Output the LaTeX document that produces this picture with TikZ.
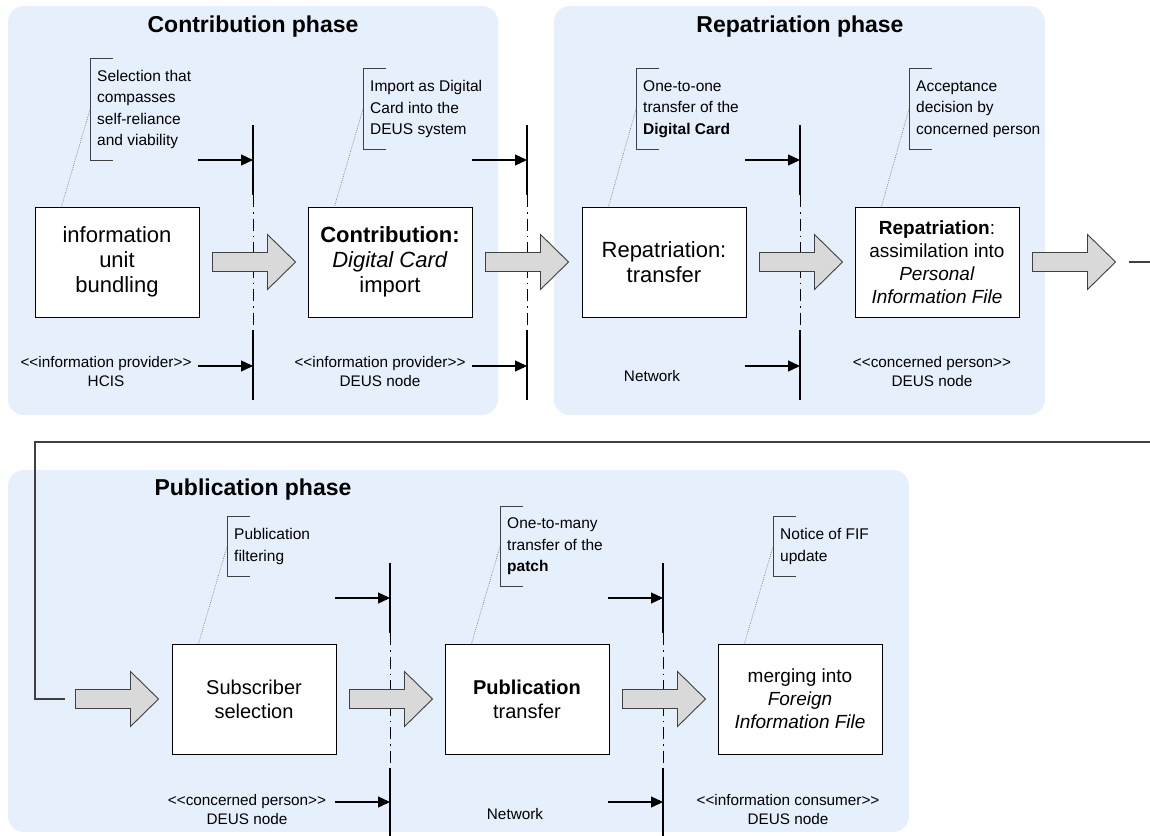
\documentclass[tikz,border=0pt]{standalone}
\usepackage{fontspec}
\setmainfont{Liberation Sans}
\usetikzlibrary{arrows.meta}
\definecolor{panelblue}{RGB}{230,240,253}
\definecolor{arrowgray}{RGB}{217,217,217}
\definecolor{edgegray}{RGB}{64,64,64}
% stereotype brackets, kept as two separate angle characters
\newcommand\stereo[1]{<\kern0pt<#1>\kern0pt>}
\tikzset{
  phase/.style={fill=panelblue, draw=none, rounded corners=16pt},
  phasetitle/.style={font=\fontsize{23}{27}\selectfont\bfseries, inner sep=0pt},
  stepbox/.style={draw=black, line width=1pt, fill=white, minimum width=164pt,
    minimum height=110pt, align=center, inner sep=0pt,
    font=\fontsize{19}{23}\selectfont},
  bigtext/.style={font=\fontsize{22}{25}\selectfont},
  midtext/.style={font=\fontsize{20}{24}\selectfont},
  note/.style={anchor=west, align=left, inner xsep=7pt, inner ysep=0pt,
    font=\fontsize{15.5}{21.5}\selectfont},
  bracket/.style={draw=edgegray, line width=1pt},
  leader/.style={draw=gray, line width=0.7pt, dash pattern=on 0.8pt off 1.2pt},
  role/.style={align=center, inner sep=0pt, font=\fontsize{15.3}{19}\selectfont},
  laneline/.style={line width=2.7pt},
  lanedash/.style={line width=0.9pt, dash pattern=on 12pt off 5pt on 1.5pt off 5pt},
  feed/.style={line width=1.3pt, -{Triangle[length=12pt,width=11pt]}},
  link/.style={draw=edgegray, line width=1.2pt},
  bigarrow/.pic={
    \draw[fill=arrowgray, draw=edgegray, line width=0.9pt, line join=miter]
      (0,-9.5) -- (55,-9.5) -- (55,-27.5) -- (83,0) -- (55,27.5)
      -- (55,9.5) -- (0,9.5) -- cycle;
  }
}
\begin{document}
\begin{tikzpicture}[x=1pt,y=-1pt]
\useasboundingbox (0,0) rectangle (1150,835);

% phase panels
\fill[phase] (8,6) rectangle (498,415);
\fill[phase] (554,6) rectangle (1045,415);
\fill[phase] (8,470) rectangle (909,832);
\node[phasetitle] (t1) at (253,27) {Contribution phase};
\node[phasetitle] (t2) at (800,27) {Repatriation phase};
\node[phasetitle] (t3) at (253,490) {Publication phase};

% swimlane separators with their incoming flows
\foreach \x in {253,527,800} {
  \draw[laneline] (\x,125) -- (\x,195);
  \draw[lanedash] (\x,195) -- (\x,330);
  \draw[laneline] (\x,330) -- (\x,400);
  \draw[feed] (\x-55,160) -- (\x,160);
  \draw[feed] (\x-55,366) -- (\x,366);
}
\foreach \x in {390,663} {
  \draw[laneline] (\x,563) -- (\x,633);
  \draw[lanedash] (\x,633) -- (\x,768);
  \draw[laneline] (\x,768) -- (\x,840);
  \draw[feed] (\x-55,598) -- (\x,598);
  \draw[feed] (\x-55,802) -- (\x,802);
}

% process steps
\node[stepbox, bigtext] (b1) at (117,262) {information\\unit\\bundling};
\node[stepbox, bigtext] (b2) at (390,262) {\textbf{Contribution:}\\\textit{Digital Card}\\import};
\node[stepbox, bigtext] (b3) at (664,262) {Repatriation:\\transfer};
\node[stepbox] (b4) at (937,262) {\textbf{Repatriation}:\\assimilation into\\\textit{Personal}\\\textit{Information File}};
\node[stepbox, midtext] (c1) at (254,699) {Subscriber\\selection};
\node[stepbox, midtext] (c2) at (527,699) {\textbf{Publication}\\transfer};
\node[stepbox] (c3) at (800,699) {merging into\\\textit{Foreign}\\\textit{Information File}};

% block arrows between steps
\pic at ([xshift=13pt]b1.east) {bigarrow};
\pic at ([xshift=13pt]b2.east) {bigarrow};
\pic at ([xshift=13pt]b3.east) {bigarrow};
\pic at ([xshift=13pt]b4.east) {bigarrow};
\pic at ([xshift=-96pt]c1.west) {bigarrow};
\pic at ([xshift=13pt]c1.east) {bigarrow};
\pic at ([xshift=13pt]c2.east) {bigarrow};

% flow continuing from the first row to the second
\coordinate (exitA) at ([xshift=109pt]b4.east);
\coordinate (exitB) at (1150,262);
\coordinate (wrapR) at (1150,442);
\coordinate (wrapL) at (35,442);
\coordinate (wrapD) at (35,699);
\coordinate (entry) at ([xshift=-107pt]c1.west);
\draw[link] (exitA) -- (exitB);
\draw[link] (wrapR) -- (wrapL) -- (wrapD) -- (entry);

% annotations
\node[note, minimum height=101pt] (n1) at (90,109.5) {Selection that\\compasses\\self-reliance\\and viability};
\node[note, minimum height=80pt] (n2) at (363,109) {Import as Digital\\Card into the\\DEUS system};
\node[note, minimum height=80pt] (n3) at (636,109) {One-to-one\\transfer of the\\\textbf{Digital Card}};
\node[note, minimum height=80pt] (n4) at (909,109) {Acceptance\\decision by\\concerned person};
\node[note, minimum height=59pt] (m1) at (227,546.5) {Publication\\filtering};
\node[note, minimum height=80pt] (m2) at (500,546.5) {One-to-many\\transfer of the\\\textbf{patch}};
\node[note, minimum height=59pt] (m3) at (773,546.5) {Notice of FIF\\update};
\foreach \n/\b in {n1/b1,n2/b2,n3/b3,n4/b4,m1/c1,m2/c2,m3/c3} {
  \draw[bracket] ([xshift=23pt]\n.north west) -- (\n.north west)
    -- (\n.south west) -- ([xshift=23pt]\n.south west);
  \draw[leader] (\n.west) -- ([xshift=27pt]\b.north west);
}

% participants
\node[role] (r1) at (106,371.5) {\stereo{information provider}\\HCIS};
\node[role] (r2) at (380,371.5) {\stereo{information provider}\\DEUS node};
\node[role] (r3) at (652,376) {Network};
\node[role] (r4) at (932,371.5) {\stereo{concerned person}\\DEUS node};
\node[role] (s1) at (247,809.5) {\stereo{concerned person}\\DEUS node};
\node[role] (s2) at (515,814) {Network};
\node[role] (s3) at (788,809.5) {\stereo{information consumer}\\DEUS node};
\end{tikzpicture}
\end{document}
